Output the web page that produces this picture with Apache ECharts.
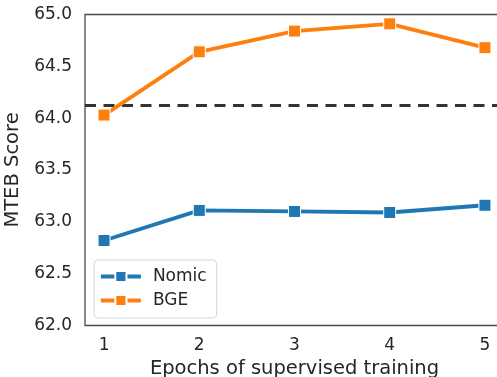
<!DOCTYPE html>
<html>
<head>
<meta charset="utf-8">
<script src="https://cdn.jsdelivr.net/npm/echarts@6/dist/echarts.min.js"></script>
<style>
  html, body { margin: 0; padding: 0; background: #fff; }
  #chart { width: 497px; height: 377px; }
</style>
</head>
<body>
<div id="chart"></div>
<script>
// Epochs of supervised training vs. MTEB score
const epochs = [1, 2, 3, 4, 5];
const nomicScores = [62.82, 63.11, 63.10, 63.09, 63.16];
const bgeScores = [64.03, 64.64, 64.84, 64.91, 64.68];
const baselineScore = 64.12;
const yTicks = [62.0, 62.5, 63.0, 63.5, 64.0, 64.5, 65.0];

const textColor = '#262626';
const font = 'DejaVu Sans';

const chart = echarts.init(document.getElementById('chart'), null, { renderer: 'canvas' });

function pairs(values) {
  return epochs.map((e, i) => [e, values[i]]);
}

const lineSeries = (name, color, values) => ({
  name: name,
  type: 'line',
  data: pairs(values),
  symbol: 'rect',
  symbolSize: 12,
  lineStyle: { color: color, width: 3.8 },
  itemStyle: { color: color, borderColor: '#fff', borderWidth: 1 },
  emphasis: { disabled: true },
  animation: false,
  z: 3
});

chart.setOption({
  animation: false,
  backgroundColor: '#fff',
  grid: {
    left: 85, top: 14.5, right: -7, bottom: 51.5,
    outerBoundsMode: 'none',
    containLabel: false,
    show: true, borderColor: '#4a4a4a', borderWidth: 1.3, backgroundColor: 'transparent'
  },
  xAxis: {
    type: 'value',
    min: 0.8, max: 5.2,
    name: 'Epochs of supervised training',
    nameLocation: 'middle',
    nameGap: 28,
    nameTextStyle: { fontFamily: font, fontSize: 19.5, color: textColor },
    axisLine: { show: false },
    axisTick: { show: false },
    splitLine: { show: false },
    axisLabel: {
      customValues: epochs,
      fontFamily: font, fontSize: 17, color: textColor, margin: 12,
      formatter: v => String(v)
    }
  },
  yAxis: {
    type: 'value',
    min: 62, max: 65, interval: 0.5,
    name: 'MTEB Score',
    nameLocation: 'middle',
    nameGap: 56,
    nameTextStyle: { fontFamily: font, fontSize: 19.5, color: textColor },
    axisLine: { show: false },
    axisTick: { show: false },
    splitLine: { show: false },
    axisLabel: {
      customValues: yTicks,
      fontFamily: font, fontSize: 17, color: textColor, margin: 13,
      formatter: v => v.toFixed(1)
    }
  },
  legend: {
    left: 94, top: 260,
    orient: 'vertical',
    data: ['Nomic', 'BGE'],
    itemWidth: 40, itemHeight: 14,
    itemGap: 7,
    padding: [8, 10, 9, 5],
    backgroundColor: 'rgba(255,255,255,0.8)',
    borderColor: '#d6d6d6', borderWidth: 1, borderRadius: 4,
    lineStyle: { width: 3.8 },
    textStyle: { fontFamily: font, fontSize: 17, lineHeight: 17, color: textColor, padding: [0, 0, 0, 7] }
  },
  series: [
    lineSeries('Nomic', '#1f77b4', nomicScores),
    Object.assign(lineSeries('BGE', '#ff7f0e', bgeScores), {
      markLine: {
        silent: true,
        symbol: 'none',
        label: { show: false },
        lineStyle: { color: '#333333', width: 3, type: [11, 7.5] },
        data: [{ yAxis: baselineScore }],
        z: 2
      }
    })
  ]
});
</script>
</body>
</html>
